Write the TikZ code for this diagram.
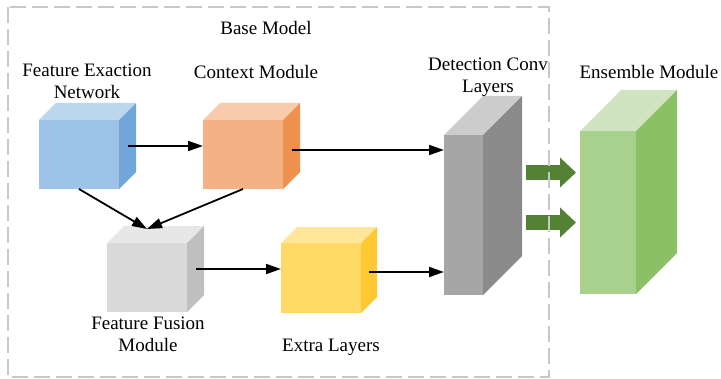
\documentclass[tikz,border=0pt]{standalone}
\usepackage{fontspec}
\setmainfont{Liberation Serif}
\usetikzlibrary{positioning}
\usetikzlibrary{arrows.meta}
\usetikzlibrary{calc}

\definecolor{blueF}{HTML}{9DC3E6}
\definecolor{blueT}{HTML}{BDD7EE}
\definecolor{blueS}{HTML}{70A6D9}
\definecolor{orangeF}{HTML}{F4B183}
\definecolor{orangeT}{HTML}{F8CBAD}
\definecolor{orangeS}{HTML}{F0904F}
\definecolor{silverF}{HTML}{D9D9D9}
\definecolor{silverT}{HTML}{E7E7E7}
\definecolor{silverS}{HTML}{BFBFBF}
\definecolor{yellowF}{HTML}{FFD966}
\definecolor{yellowT}{HTML}{FFE699}
\definecolor{yellowS}{HTML}{FFC933}
\definecolor{darkF}{HTML}{A6A6A6}
\definecolor{darkT}{HTML}{CCCCCC}
\definecolor{darkS}{HTML}{8A8A8A}
\definecolor{greenF}{HTML}{A9D18E}
\definecolor{greenT}{HTML}{D0E4C2}
\definecolor{greenS}{HTML}{8CC065}
\definecolor{arrowgreen}{HTML}{548235}
\definecolor{frame}{HTML}{C8C8C8}

% block: name, x, y, width, height, depth, colour prefix
\newcommand{\blockcube}[7]{%
  \node[face, fill=#7F, minimum width=#4*0.5pt, minimum height=#5*0.5pt] (#1) at (#2,#3) {};
  \fill[#7T] (#1.north west) -- ++(#6,-#6) -- ++(#4,0) -- (#1.north east) -- cycle;
  \fill[#7S] (#1.north east) -- ++(#6,-#6) -- ++(0,#5) -- (#1.south east) -- cycle;
  \coordinate (#1-side) at ($(#1.east)+(#6/2,-#6/2)$);
}

\begin{document}
\begin{tikzpicture}[
  x=0.5pt, y=-0.5pt,
  font=\fontsize{9.5}{11}\selectfont,
  face/.style={inner sep=0pt, outer sep=0pt, anchor=north west},
  arrow/.style={-{Triangle[length=7.5pt,width=5pt]}, line width=0.9pt},
  fat/.style={-{Triangle[length=8pt,width=14.5pt]}, line width=7.5pt, arrowgreen},
  lab/.style={align=center, inner sep=1pt},
  border/.style={draw=frame, line width=1pt, dash pattern=on 8pt off 3pt}
]
\useasboundingbox (0,0) rectangle (721,379);

% --- Blocks ---
\blockcube{feat}{39}{120}{80}{69}{17}{blue}
\blockcube{ctx}{203}{120}{80}{69}{17}{orange}
\blockcube{fusion}{107}{243}{80}{69}{17}{silver}
\blockcube{extra}{281}{243}{80}{70}{16}{yellow}
\blockcube{det}{444}{135}{39}{160}{39}{dark}
\blockcube{ens}{580}{131}{56}{163}{41}{green}

\coordinate (fusion-top) at ($(fusion.north)+(0,-14)$);

% --- Connectors ---
\draw[arrow] (feat-side) -- (feat-side -| ctx.west);
\draw[arrow] ($(ctx-side)+(0,4)$) -- ($(ctx-side -| det.west)+(0,4)$);
\draw[arrow] (feat.south) -- (fusion-top);
\draw[arrow] (ctx.south) -- (fusion-top);
\draw[arrow] (fusion-side) -- (fusion-side -| extra.west);
\draw[arrow] ($(extra-side)+(0,2)$) -- ($(extra-side -| det.west)+(0,2)$);

\draw[fat] ($(det.east)+(43,-42.5)$) -- ($(ens.west)+(-4,-40)$);
\draw[fat] ($(det.east)+(43,7.5)$) -- ($(ens.west)+(-4,10)$);

% --- Labels ---
\node[lab] (base) at (266,28) {Base Model};
\node[lab] (featlab) at (87,81) {Feature Exaction\\Network};
\node[lab] (ctxlab) at (256,72) {Context Module};
\node[lab] (detlab) at (488,77) {Detection Conv\\Layers};
\node[lab] (enslab) at (649,72) {Ensemble Module};
\node[lab] (fusionlab) at (148,334.5) {Feature Fusion\\Module};
\node[lab] (extralab) at (331,347) {Extra Layers};

% --- Base model frame ---
\draw[border] (8,7) rectangle (549,377);

\end{tikzpicture}
\end{document}
